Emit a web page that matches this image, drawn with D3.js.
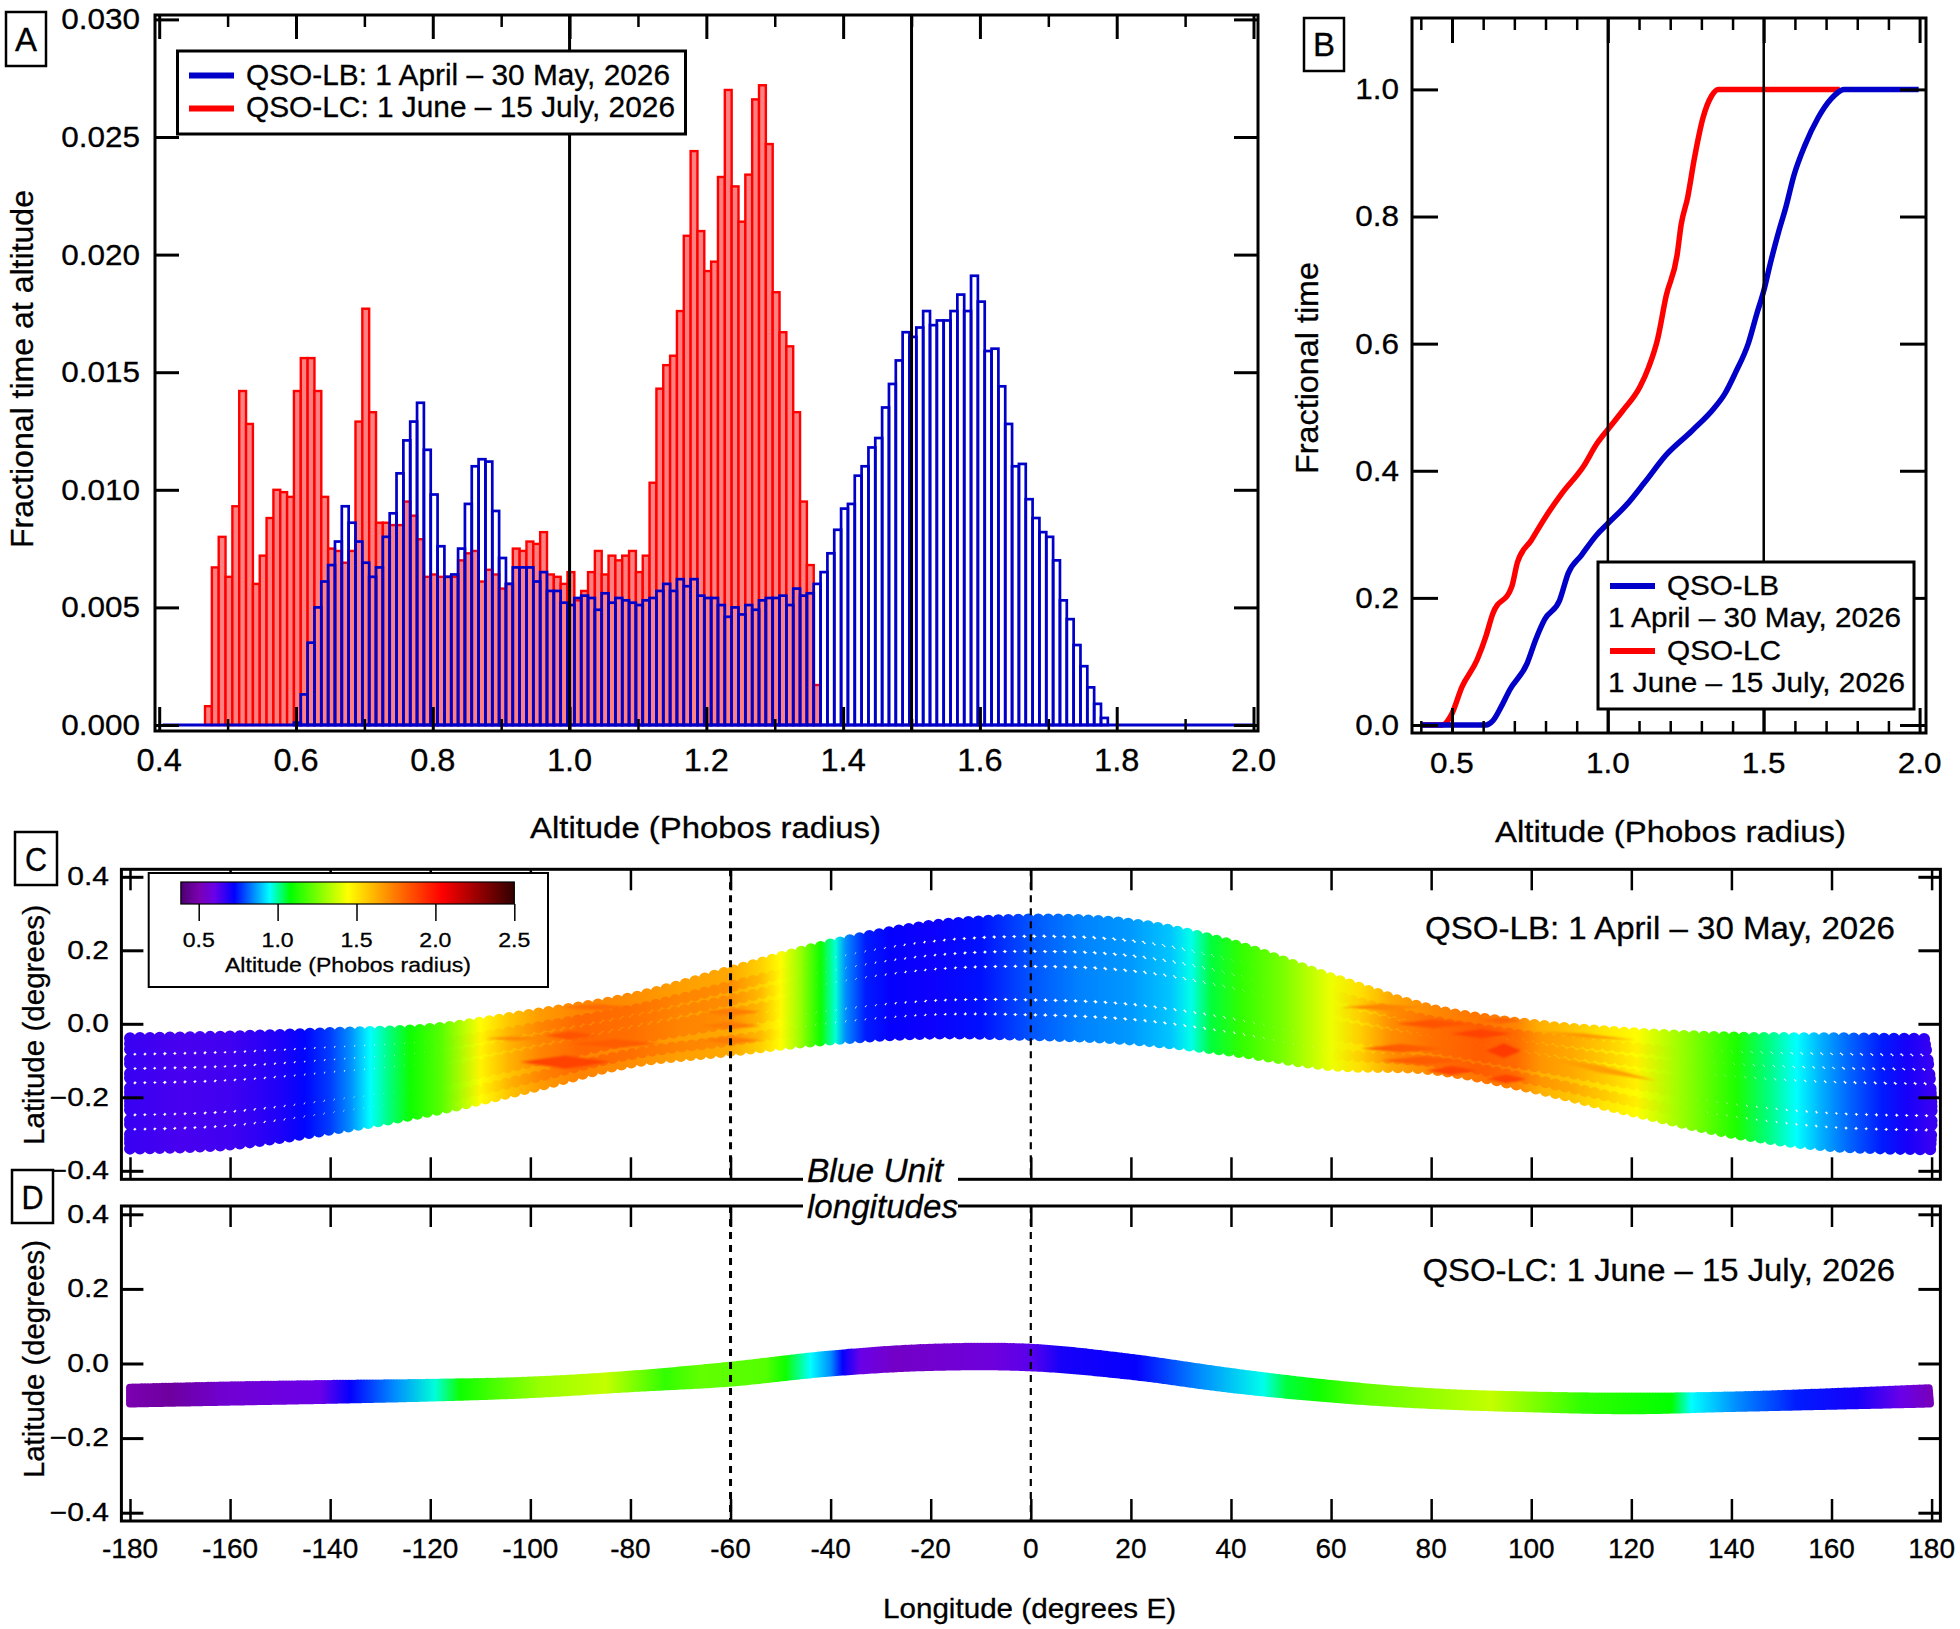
<!DOCTYPE html>
<html>
<head>
<meta charset="utf-8">
<style>
  html, body { margin: 0; padding: 0; background: #fff; }
  svg { display: block; }
  text { font-family: "Liberation Sans", Arial, sans-serif; fill: #000; stroke: #000; stroke-width: .3px; }
</style>
<script src="https://cdn.jsdelivr.net/npm/d3@7/dist/d3.min.js"></script>
</head>
<body>
<svg id="fig" width="1960" height="1629"></svg>
<script>
// histogram bins, left edge of bin i = binStart + i * binWidth
const binStart = 0.467;
const binWidth = 0.01;
const lcHist = [.0008,.0067,.0080,.0063,.0093,.0142,.0128,.0060,.0072,.0088,
    .0100,.0099,.0097,.0142,.0156,.0156,.0142,.0097,.0075,.0074,
    .0069,.0074,.0129,.0177,.0133,.0086,.0086,.0085,.0085,.0095,
    .0089,.0079,.0063,.0064,.0063,.0063,.0063,.0070,.0073,.0074,
    .0061,.0066,.0064,.0058,.0060,.0075,.0074,.0078,.0077,.0082,
    .0064,.0063,.0060,.0065,.0053,.0057,.0065,.0074,.0064,.0072,
    .0070,.0072,.0074,.0065,.0072,.0103,.0143,.0153,.0157,.0176,
    .0208,.0244,.0210,.0193,.0197,.0233,.0270,.0229,.0214,.0234,
    .0266,.0272,.0247,.0184,.0167,.0161,.0133,.0095,.0068,.0017];
const lbHist = [0,0,0,0,0,0,0,0,0,0,0,0,0,.0001,.0013,.0035,.0050,.0061,.0068,.0078,
    .0093,.0086,.0078,.0069,.0063,.0067,.0080,.0090,.0107,.0121,
    .0129,.0137,.0117,.0098,.0076,.0063,.0064,.0075,.0094,.0110,
    .0113,.0112,.0091,.0071,.0060,.0067,.0067,.0067,.0061,.0065,
    .0057,.0057,.0052,.0051,.0054,.0055,.0054,.0049,.0056,.0052,
    .0054,.0053,.0052,.0051,.0053,.0054,.0057,.0060,.0057,.0062,
    .0059,.0062,.0055,.0054,.0054,.0051,.0046,.0050,.0047,.0051,
    .0049,.0053,.0054,.0054,.0055,.0051,.0058,.0055,.0056,.0060,
    .0065,.0073,.0083,.0092,.0094,.0106,.0110,.0118,.0122,.0135,
    .0145,.0155,.0167,.0165,.0169,.0176,.0170,.0172,.0172,.0176,
    .0183,.0176,.0191,.0180,.0159,.0160,.0144,.0128,.0110,.0111,
    .0096,.0088,.0082,.0080,.0070,.0053,.0045,.0034,.0025,.0016,.0009,.0003];

// cumulative curves in panel B
const lcCumAlt = [.404,.469,.497,.532,.581,.609,.630,.692,.710,.755,.797,.852,.922,.964,1.0,1.047,1.103,1.131,1.159,1.187,1.222,1.235,1.256,1.277,1.305,1.333,1.354,1.744];
const lcCumFrac = [0,0,.015,.060,.103,.140,.174,.218,.256,.291,.325,.364,.407,.442,.465,.494,.532,.563,.606,.675,.739,.787,.830,.890,.955,.990,1,1];
const lbCumAlt = [.404,.609,.630,.657,.685,.741,.769,.797,.845,.873,.915,.964,1.0,1.061,1.117,1.187,1.270,1.340,1.375,1.409,1.451,1.479,1.5,1.521,1.549,1.570,1.597,1.632,1.674,1.716,1.758,1.997];
const lbCumFrac = [0,0,.006,.028,.055,.097,.135,.166,.196,.239,.267,.299,.317,.347,.381,.425,.463,.498,.521,.554,.601,.649,.683,.726,.778,.813,.865,.912,.955,.985,1,1];

// ground track envelopes, panels C and D
const envLon = [-180,-160,-140,-120,-100,-80,-60,-40,-20,0,20,40,60,80,100,120,140,160,180];
const cTopLat = [-.023,-.018,-.009,.002,.041,.086,.159,.232,.283,.300,.288,.232,.140,.055,.014,-.009,-.021,-.023,-.025];
const cBotLat = [-.356,-.345,-.304,-.254,-.190,-.122,-.090,-.059,-.043,-.047,-.059,-.090,-.129,-.140,-.190,-.254,-.313,-.349,-.358];
const dTopLat = [-.054,-.048,-.044,-.041,-.035,-.019,.005,.035,.053,.053,.026,-.012,-.044,-.066,-.075,-.078,-.075,-.066,-.055];
const dBotLat = [-.118,-.113,-.108,-.102,-.093,-.077,-.062,-.035,-.020,-.021,-.044,-.079,-.105,-.122,-.131,-.136,-.130,-.124,-.118];

// altitude along track
const cAltLon = [-180,-170,-160,-150,-145,-140,-136,-132,-128,-124,-118,-110,-104,-98,-90,-80,-70,-60,-54,-50,-46,-42,-39,-37,-33,-28,-20,-10,0,10,20,28,32,36,42,50,60,66,72,80,90,97,102,108,115,121,130,141,147,153,158,163,170,175,180];
const cAltBase = [.66,.64,.65,.69,.73,.78,.85,.95,1.02,1.10,1.20,1.45,1.58,1.67,1.72,1.70,1.66,1.64,1.55,1.45,1.30,1.10,.97,.85,.75,.72,.71,.74,.80,.84,.86,.90,.96,1.05,1.15,1.25,1.42,1.52,1.64,1.71,1.76,1.72,1.62,1.58,1.50,1.45,1.30,1.12,1.02,.95,.88,.82,.75,.70,.66];
const cAltStripe = [.66,.64,.65,.69,.73,.78,.85,.95,1.02,1.10,1.20,1.47,1.62,1.72,1.79,1.77,1.72,1.70,1.60,1.46,1.30,1.10,.97,.85,.75,.72,.71,.74,.80,.84,.86,.90,.96,1.05,1.15,1.25,1.42,1.56,1.70,1.77,1.82,1.78,1.68,1.64,1.56,1.48,1.30,1.12,1.02,.95,.88,.82,.75,.70,.66];
const dAltLon = [-180,-172,-161,-142,-136,-127,-119,-114,-98,-85,-73,-66,-53,-49,-44,-40,-37.6,-34,-27,-7,0,6,21,34,46.5,51,57.5,67,92,110,128,132,141,153,165,174,180];
const dAlt = [.50,.47,.56,.60,.72,.85,.97,1.10,1.30,1.36,1.15,1.22,1.20,1.10,.95,.85,.72,.60,.54,.58,.62,.70,.72,.85,.96,1.05,1.10,1.22,1.36,1.15,1.08,.95,.85,.75,.70,.60,.52];

// high altitude streaks in panel C: start and end of each one
const streakLon0 = [-97,-109,-102,-92,-94,-66,-66,-66,73,84,66,70,90,62,91,79,91,102,100];
const streakLon1 = [-87,-97,-84,-74,-79,-54,-54,-54,88,96,82,87,98,79,98,89,99,125,121];
const streakLat0 = [-.032,-.040,-.104,-.054,.045,.032,-.005,-.045,.000,-.027,-.067,-.100,.009,.045,-.073,-.127,-.150,-.090,-.020];
const streakLat1 = [-.032,-.040,-.104,-.054,.045,.032,-.005,-.045,.000,-.027,-.067,-.100,.009,.045,-.073,-.127,-.150,-.155,-.045];
const streakWide = [.012,.006,.018,.012,.008,.010,.010,.010,.012,.012,.012,.012,.008,.008,.020,.012,.012,.010,.006];
const streakAlt = [1.84,1.72,1.88,1.82,1.78,1.74,1.74,1.74,1.84,1.88,1.82,1.82,1.8,1.72,1.9,1.88,1.88,1.66,1.68];

// track rows inside the band
const cRowFrac = [0,.05,.10,.19,.23,.32,.36,.45,.49,.53,.57,.61,.65,.74,.78,.87,.91,.95,1];
const cRowStripe = [0,0,0,1,0,0,1,0,0,1,0,0,1,0,0,1,0,0,0];
const dRowFrac = [0,.2,.4,.6,.8,1];

// colour bar
const cmapAlt = [.387,.5,.6,.726,.95,1.08,1.446,1.73,2.04,2.5];
const cmapColor = ['#4b0070','#7a00b0','#6a00e8','#0000ff','#00ffff','#00ff00','#ffff00','#ff8000','#ff0000','#300000'];
const cbarTicks = [.5,1,1.5,2,2.5];

// ticks
const aXMajor = [.4,.6,.8,1,1.2,1.4,1.6,1.8,2];
const aXMinor = [.5,.7,.9,1.1,1.3,1.5,1.7,1.9];
const aYTicks = [0,.005,.01,.015,.02,.025,.03];
const bXMajor = [.5,1,1.5,2];
const bXMinor = [.4,.6,.7,.8,.9,1.1,1.2,1.3,1.4,1.6,1.7,1.8,1.9];
const bYTicks = [0,.2,.4,.6,.8,1];
const lonTicks = [-180,-160,-140,-120,-100,-80,-60,-40,-20,0,20,40,60,80,100,120,140,160,180];
const latTicks = [-.4,-.2,0,.2,.4];
const blueUnitLon = [-60,0];
const altMarks = [1,1.5];

const BLUE = '#0000c8';
const RED = '#ff0000';
const svg = d3.select('#fig');

function addText(g, str, x, y, o) {
    o = o || {};
    let t = g.append('text')
        .attr('transform', `translate(${x},${y}) rotate(${o.rot || 0}) scale(${o.sx || 1},${o.sy || 1})`)
        .attr('font-size', o.size || 30)
        .attr('text-anchor', o.anchor || 'start')
        .text(str);
    if (o.len) t.attr('textLength', o.len).attr('lengthAdjust', 'spacingAndGlyphs');
    if (o.italic) t.attr('font-style', 'italic');
    return t;
}

function letterBox(str, x0, y0, x1, y1, size, sx) {
    svg.append('rect').attr('x', x0).attr('y', y0).attr('width', x1 - x0).attr('height', y1 - y0)
        .attr('fill', '#fff').attr('stroke', '#000').attr('stroke-width', 2.5);
    addText(svg, str, (x0 + x1) / 2, (y0 + y1) / 2 + size * 0.36, {size: size, anchor: 'middle', sx: sx});
}

// inward ticks on one side of the frame, len > 0 points into the plot
function ticks(g, axisFn, scale, values, len, pos, width) {
    let a = g.append('g').attr('transform', pos)
        .call(axisFn(scale).tickValues(values).tickSize(-len).tickFormat(''));
    a.select('.domain').remove();
    a.selectAll('line').attr('stroke', '#000').attr('stroke-width', width);
}

function frame(g, x0, y0, x1, y1) {
    g.append('rect').attr('x', x0).attr('y', y0).attr('width', x1 - x0).attr('height', y1 - y0)
        .attr('fill', 'none').attr('stroke', '#000').attr('stroke-width', 3);
}

function xLabels(g, scale, values, fmt, baseline, size, sx) {
    values.forEach(v => addText(g, fmt(v), scale(v), baseline, {size: size, anchor: 'middle', sx: sx}));
}

function yLabels(g, scale, values, fmt, right, size, sx) {
    values.forEach(v => addText(g, fmt(v), right, scale(v) + size * 0.33, {size: size, anchor: 'end', sx: sx}));
}

// ---- panel A
function drawA() {
    let g = svg.append('g');
    let x = d3.scaleLinear().domain([.4, 2]).range([159.2, 1253.5]);
    let y = d3.scaleLinear().domain([0, .03]).range([725, 19.4]);

    function bars(values, fill, stroke, width) {
        g.append('g').selectAll('rect').data(values).join('rect')
            .attr('x', (d, i) => x(binStart + i * binWidth))
            .attr('width', x(binWidth) - x(0))
            .attr('y', d => y(d))
            .attr('height', d => y(0) - y(d))
            .attr('fill', fill)
            .attr('stroke', stroke)
            .attr('stroke-width', width);
    }
    bars(lcHist, '#ff8080', RED, 2.4);
    bars(lbHist, 'none', BLUE, 2.7);

    g.append('line').attr('x1', x(.405)).attr('x2', x(2)).attr('y1', y(0)).attr('y2', y(0))
        .attr('stroke', BLUE).attr('stroke-width', 3);

    altMarks.forEach(a => g.append('line').attr('x1', x(a)).attr('x2', x(a)).attr('y1', 15).attr('y2', 730)
        .attr('stroke', '#000').attr('stroke-width', 3));

    ticks(g, d3.axisBottom, x, aXMajor, 24, 'translate(0,731)', 3);
    ticks(g, d3.axisBottom, x, aXMinor, 12, 'translate(0,731)', 2.5);
    ticks(g, d3.axisTop, x, aXMajor, 24, 'translate(0,15)', 3);
    ticks(g, d3.axisTop, x, aXMinor, 12, 'translate(0,15)', 2.5);
    ticks(g, d3.axisLeft, y, aYTicks, 24, 'translate(155,0)', 3);
    ticks(g, d3.axisRight, y, aYTicks, 24, 'translate(1258,0)', 3);
    frame(g, 155, 15, 1258, 731);

    xLabels(g, x, aXMajor, d3.format('.1f'), 771, 31, 1.05);
    yLabels(g, y, aYTicks, d3.format('.3f'), 140, 30, 1.05);
    addText(g, 'Altitude (Phobos radius)', 705.5, 838, {size: 29, anchor: 'middle', len: 351});
    addText(g, 'Fractional time at altitude', 33, 369, {size: 31, anchor: 'middle', rot: -90, len: 358});

    // legend
    g.append('rect').attr('x', 177.5).attr('y', 51).attr('width', 508).attr('height', 83)
        .attr('fill', '#fff').attr('stroke', '#000').attr('stroke-width', 3);
    g.append('line').attr('x1', 189).attr('x2', 234).attr('y1', 75.6).attr('y2', 75.6).attr('stroke', BLUE).attr('stroke-width', 6);
    g.append('line').attr('x1', 189).attr('x2', 234).attr('y1', 108.6).attr('y2', 108.6).attr('stroke', RED).attr('stroke-width', 6);
    addText(g, 'QSO-LB: 1 April \u2013 30 May, 2026', 246, 85, {size: 30, len: 424});
    addText(g, 'QSO-LC: 1 June \u2013 15 July, 2026', 246, 117, {size: 30, len: 429});
}

// ---- panel B
function drawB() {
    let g = svg.append('g');
    let x = d3.scaleLinear().domain([.5, 2]).range([1452, 1919.6]);
    let y = d3.scaleLinear().domain([0, 1]).range([725, 89.4]);
    let line = d3.line().curve(d3.curveMonotoneX).x(d => x(d[0])).y(d => y(d[1]));

    g.append('path').attr('d', line(d3.zip(lcCumAlt, lcCumFrac)))
        .attr('fill', 'none').attr('stroke', RED).attr('stroke-width', 5.5);
    g.append('path').attr('d', line(d3.zip(lbCumAlt, lbCumFrac)))
        .attr('fill', 'none').attr('stroke', BLUE).attr('stroke-width', 5.5);

    altMarks.forEach(a => g.append('line').attr('x1', x(a)).attr('x2', x(a)).attr('y1', 18).attr('y2', 733)
        .attr('stroke', '#000').attr('stroke-width', 2.5));

    ticks(g, d3.axisBottom, x, bXMajor, 25, 'translate(0,733)', 3);
    ticks(g, d3.axisBottom, x, bXMinor, 12, 'translate(0,733)', 2.5);
    ticks(g, d3.axisTop, x, bXMajor, 25, 'translate(0,18)', 3);
    ticks(g, d3.axisTop, x, bXMinor, 12, 'translate(0,18)', 2.5);
    ticks(g, d3.axisLeft, y, bYTicks, 26, 'translate(1412,0)', 3);
    ticks(g, d3.axisRight, y, bYTicks, 26, 'translate(1926,0)', 3);
    frame(g, 1412, 18, 1926, 733);

    xLabels(g, x, bXMajor, d3.format('.1f'), 773, 30, 1.05);
    yLabels(g, y, bYTicks, d3.format('.1f'), 1399, 30, 1.05);
    addText(g, 'Altitude (Phobos radius)', 1670.5, 842, {size: 29, anchor: 'middle', len: 351});
    addText(g, 'Fractional time', 1318, 368, {size: 31, anchor: 'middle', rot: -90, len: 212});

    // legend
    g.append('rect').attr('x', 1598).attr('y', 562).attr('width', 316).attr('height', 147)
        .attr('fill', '#fff').attr('stroke', '#000').attr('stroke-width', 3);
    g.append('line').attr('x1', 1610).attr('x2', 1655).attr('y1', 586).attr('y2', 586).attr('stroke', BLUE).attr('stroke-width', 6);
    g.append('line').attr('x1', 1610).attr('x2', 1655).attr('y1', 651).attr('y2', 651).attr('stroke', RED).attr('stroke-width', 6);
    addText(g, 'QSO-LB', 1667, 595, {size: 28, len: 112});
    addText(g, '1 April \u2013 30 May, 2026', 1608, 627, {size: 28, len: 293});
    addText(g, 'QSO-LC', 1667, 660, {size: 28, len: 114});
    addText(g, '1 June \u2013 15 July, 2026', 1608, 692, {size: 28, len: 297});
}

// ---- panels C and D
const altColor = d3.scaleLinear().domain(cmapAlt).range(cmapColor);

function altGradient(id, x, lons, alts) {
    let grad = svg.append('defs').append('linearGradient').attr('id', id)
        .attr('gradientUnits', 'userSpaceOnUse')
        .attr('x1', x(-180)).attr('x2', x(180)).attr('y1', 0).attr('y2', 0);
    lons.forEach((lon, i) => grad.append('stop')
        .attr('offset', (lon + 180) / 360)
        .attr('stop-color', altColor(alts[i])));
}

// one row of dots running along the track
function trackRow(g, x, y, topLat, botLat, f, gradId, dia, step) {
    let line = d3.line().curve(d3.curveCatmullRom)
        .x(d => x(d))
        .y((d, i) => {
            let t = y(topLat[i]) + dia / 2;
            let b = y(botLat[i]) - dia / 2;
            return t + f * (b - t);
        });
    g.append('path').attr('d', line(envLon))
        .attr('fill', 'none')
        .attr('stroke', `url(#${gradId})`)
        .attr('stroke-width', dia)
        .attr('stroke-linecap', 'round')
        .attr('stroke-dasharray', `0 ${step}`);
}

function mapPanel(top, bottom, yRange) {
    let g = svg.append('g');
    let x = d3.scaleLinear().domain([-180, 180]).range([130, 1931.6]);
    let y = d3.scaleLinear().domain([-.4, .4]).range(yRange);
    return {g, x, y, top, bottom};
}

function mapFurniture(p) {
    let g = p.g;
    blueUnitLon.forEach((lon, i) => g.append('line')
        .attr('x1', p.x(lon)).attr('x2', p.x(lon)).attr('y1', p.top).attr('y2', p.bottom)
        .attr('stroke', '#000').attr('stroke-width', i === 0 ? 3 : 2.2)
        .attr('stroke-dasharray', '7 6'));
    ticks(g, d3.axisBottom, p.x, lonTicks, 22, `translate(0,${p.bottom})`, 2.5);
    ticks(g, d3.axisTop, p.x, lonTicks, 21, `translate(0,${p.top})`, 2.5);
    ticks(g, d3.axisLeft, p.y, latTicks, 22, 'translate(121.4,0)', 3);
    ticks(g, d3.axisRight, p.y, latTicks, 22, 'translate(1940.4,0)', 3);
    frame(g, 121.4, p.top, 1940.4, p.bottom);
    yLabels(g, p.y, latTicks, d3.format('.1f'), 109, 25, 1.2);
}

function drawC() {
    let p = mapPanel(869.3, 1179.3, [1170.8, 876.8]);
    altGradient('cBase', p.x, cAltLon, cAltBase);
    altGradient('cStripe', p.x, cAltLon, cAltStripe);
    cRowFrac.forEach((f, i) => {
        if (!cRowStripe[i]) trackRow(p.g, p.x, p.y, cTopLat, cBotLat, f, 'cBase', 12, 10);
    });
    cRowFrac.forEach((f, i) => {
        if (cRowStripe[i]) trackRow(p.g, p.x, p.y, cTopLat, cBotLat, f, 'cStripe', 12, 10);
    });

    // streaks as thin lens shapes, softened a little
    svg.append('defs').append('filter').attr('id', 'soft')
        .append('feGaussianBlur').attr('stdDeviation', 1.2);
    let lens = d3.line().x(d => p.x(d[0])).y(d => p.y(d[1]));
    let streaks = p.g.append('g').attr('filter', 'url(#soft)');
    streakAlt.forEach((alt, i) => {
        let midLon = (streakLon0[i] + streakLon1[i]) / 2;
        let midLat = (streakLat0[i] + streakLat1[i]) / 2;
        streaks.append('path')
            .attr('d', lens([[streakLon0[i], streakLat0[i]], [midLon, midLat + streakWide[i]],
                [streakLon1[i], streakLat1[i]], [midLon, midLat - streakWide[i]]]) + 'Z')
            .attr('fill', altColor(alt));
    });

    mapFurniture(p);
    addText(p.g, 'Latitude (degrees)', 44, 1025, {size: 30, anchor: 'middle', rot: -90, len: 240});
    addText(p.g, 'QSO-LB: 1 April \u2013 30 May, 2026', 1425, 939, {size: 31, len: 470});

    // colour bar
    let g = p.g;
    let cx = d3.scaleLinear().domain([.5, 2.5]).range([198.7, 514.3]);
    let grad = svg.append('defs').append('linearGradient').attr('id', 'cbar')
        .attr('gradientUnits', 'userSpaceOnUse')
        .attr('x1', cx(cmapAlt[0])).attr('x2', cx(2.5)).attr('y1', 0).attr('y2', 0);
    cmapAlt.forEach((a, i) => grad.append('stop')
        .attr('offset', (a - cmapAlt[0]) / (2.5 - cmapAlt[0]))
        .attr('stop-color', cmapColor[i]));
    g.append('rect').attr('x', 148.7).attr('y', 873).attr('width', 399.3).attr('height', 114)
        .attr('fill', '#fff').attr('stroke', '#000').attr('stroke-width', 2);
    g.append('rect').attr('x', cx(cmapAlt[0])).attr('y', 882).attr('width', cx(2.5) - cx(cmapAlt[0])).attr('height', 22)
        .attr('fill', 'url(#cbar)').attr('stroke', '#000').attr('stroke-width', 1.2);
    ticks(g, d3.axisBottom, cx, cbarTicks, -17, 'translate(0,904)', 1.5);
    xLabels(g, cx, cbarTicks, d3.format('.1f'), 947, 21, 1.1);
    addText(g, 'Altitude (Phobos radius)', 348, 972, {size: 21, anchor: 'middle', len: 246});
}

function drawD() {
    let p = mapPanel(1206, 1521, [1512.7, 1214.3]);
    altGradient('dBase', p.x, dAltLon, dAlt);
    dRowFrac.forEach(f => trackRow(p.g, p.x, p.y, dTopLat, dBotLat, f, 'dBase', 8, 3));
    mapFurniture(p);
    xLabels(p.g, p.x, lonTicks, d => String(d), 1558, 28, 1);
    addText(p.g, 'Latitude (degrees)', 44, 1359, {size: 30, anchor: 'middle', rot: -90, len: 238});
    addText(p.g, 'QSO-LC: 1 June \u2013 15 July, 2026', 1422.5, 1281, {size: 31, len: 472.5});
    addText(p.g, 'Longitude (degrees E)', 1029.5, 1618, {size: 28, anchor: 'middle', len: 293});
}

drawA();
drawB();
drawC();
drawD();

// labels sitting over the gap between C and D
svg.append('rect').attr('x', 803).attr('y', 1152).attr('width', 155).attr('height', 76).attr('fill', '#fff');
addText(svg, 'Blue Unit', 807, 1182, {size: 33, italic: true, len: 136});
addText(svg, 'longitudes', 807, 1218, {size: 33, italic: true, len: 151});

letterBox('A', 6, 12, 46, 66, 33);
letterBox('B', 1304, 18, 1344, 71, 33);
letterBox('C', 15, 832, 57, 885, 34, .9);
letterBox('D', 12, 1170, 53, 1223, 34, .9);
</script>
</body>
</html>
